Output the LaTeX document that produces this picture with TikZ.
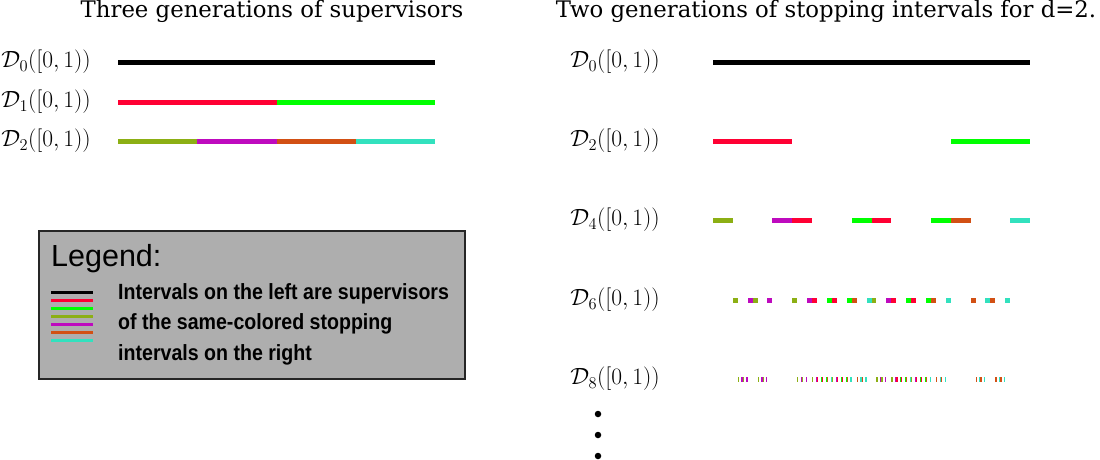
\RequirePackage{fix-cm}
\documentclass[tikz,border=0pt]{standalone}
\usepackage{fontspec}
\setmainfont{DejaVu Serif}
\newfontfamily\legfont{Liberation Sans}
\definecolor{dcol0}{RGB}{140,175,20}
\definecolor{dcol1}{RGB}{190,10,190}
\definecolor{dcol2}{RGB}{210,80,20}
\definecolor{dcol3}{RGB}{50,225,190}
\definecolor{dcol4}{RGB}{255,0,51}
\definecolor{dcol5}{RGB}{0,255,0}
\definecolor{leggray}{RGB}{174,174,174}
\tikzset{
  titletext/.style={anchor=base, inner sep=0pt, font=\fontsize{22.8}{26}\selectfont},
  dlabel/.style={anchor=mid east, inner sep=0pt, font=\fontsize{23.5}{27}\selectfont},
  legtext/.style={anchor=base west, inner sep=0pt, font=\legfont\bfseries\fontsize{22}{26}\selectfont},
  legbox/.style={draw=black!85, line width=1.3pt, fill=leggray},
  legline/.style={line width=2.7pt},
  vdot/.style={circle, fill=black, inner sep=0pt, minimum size=6.5pt}
}
\begin{document}
\begin{tikzpicture}[x=1pt,y=-1pt]
\useasboundingbox (0,0) rectangle (1100,459);
% titles
\node[titletext] (t1) at (272,17) {Three generations of supervisors};
\node[titletext] (t2) at (826,17) {Two generations of stopping intervals for d=2.};
% left labels
\node[dlabel] (l0) at (91,65) {$\mathcal{D}_0([0,1))$};
\node[dlabel] (l1) at (91,105) {$\mathcal{D}_1([0,1))$};
\node[dlabel] (l2) at (91,144) {$\mathcal{D}_2([0,1))$};
% left bars
\fill[black] (118,59.5) rectangle (435,64.5);
\fill[dcol4] (118,99.5) rectangle (276.5,104.5);
\fill[dcol5] (276.5,99.5) rectangle (435,104.5);
\foreach \i/\c in {0/0,1/1,2/2,3/3}{
  \fill[dcol\c] ({118+\i*79.25},138.5) rectangle ({118+(\i+1)*79.25},143.5);
}
% legend
\draw[legbox] (39,231) rectangle (465,379);
\node[anchor=base west, inner sep=0pt, font=\legfont\fontsize{30.5}{34}\selectfont] (lg) at (51,266.5) {Legend:};
\foreach \k/\c in {0/black,1/dcol4,2/dcol5,3/dcol0,4/dcol1,5/dcol2,6/dcol3}{
  \draw[legline,\c] (51,{292.7+8*\k}) -- (93,{292.7+8*\k});
}
\node[legtext] (lt1) at (118,299) {\scalebox{0.89}[1]{Intervals on the left are supervisors}};
\node[legtext] (lt2) at (118,329.5) {\scalebox{0.89}[1]{of the same-colored stopping}};
\node[legtext] (lt3) at (118,360) {\scalebox{0.89}[1]{intervals on the right}};
% right labels
\node[dlabel] (r0) at (660,65) {$\mathcal{D}_0([0,1))$};
\node[dlabel] (r2) at (660,144) {$\mathcal{D}_2([0,1))$};
\node[dlabel] (r4) at (660,223) {$\mathcal{D}_4([0,1))$};
\node[dlabel] (r6) at (660,303) {$\mathcal{D}_6([0,1))$};
\node[dlabel] (r8) at (660,382) {$\mathcal{D}_8([0,1))$};
\node[vdot] (d1) at (598,414) {};
\node[vdot] (d2) at (598,435) {};
\node[vdot] (d3) at (598,456) {};
% right bars
\fill[black] (713,59.5) rectangle (1030,64.5);
\foreach \i/\c in {0/4,3/5}{
  \fill[dcol\c] ({713+\i*79.25},138.5) rectangle ({713+(\i+1)*79.25},143.5);
}
\foreach \i/\c in {0/0,3/1,4/4,7/5,8/4,11/5,12/2,15/3}{
  \fill[dcol\c] ({713+\i*19.8125},217.5) rectangle ({713+(\i+1)*19.8125},222.5);
}
\foreach \i/\c in {4/0,7/1,8/0,11/1,16/0,19/1,20/4,23/5,24/4,27/5,28/2,31/3,32/0,35/1,36/4,39/5,40/4,43/5,44/2,47/3,52/2,55/3,56/2,59/3}{
  \fill[dcol\c] ({713+\i*4.953125},297.5) rectangle ({713+(\i+1)*4.953125},302.5);
}
\foreach \a in {0,1,2,3}{
 \foreach \b in {0,1,2,3}{
  \foreach \cc in {0,1,2,3}{
   \foreach \d in {0,3}{
    \pgfmathtruncatemacro\ma{(\a==1)+(\a==2)}
    \pgfmathtruncatemacro\mb{(\b==1)+(\b==2)}
    \pgfmathtruncatemacro\mc{(\cc==1)+(\cc==2)}
    \pgfmathtruncatemacro\m{\ma+\mb+\mc}
    \ifnum\m>1
      \pgfmathtruncatemacro\xx{\a*(1-\ma)+\b*(1-\mb)+\cc*(1-\mc)}
      \pgfmathtruncatemacro\code{\m==3 ? 4+\d/3 : 2*(\xx/3)+\d/3}
      \pgfmathtruncatemacro\idx{64*\a+16*\b+4*\cc+\d}
      \fill[dcol\code] ({713+\idx*1.23828125},376.5) rectangle ({713+(\idx+1)*1.23828125},381.5);
    \fi
   }
  }
 }
}
\end{tikzpicture}
\end{document}
